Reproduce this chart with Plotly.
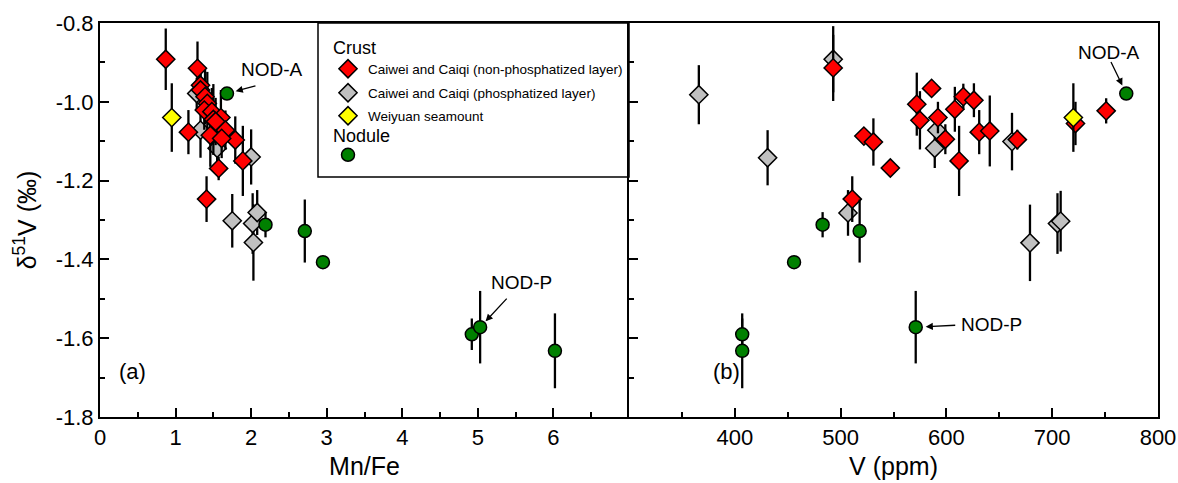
import plotly.graph_objects as go

# ---------------- data ----------------
# Panel (a): Mn/Fe
red_mnfe = [0.87, 1.29, 1.17, 1.41, 1.79, 1.89, 1.57, 1.33, 1.33, 1.39, 1.42, 1.38, 1.48, 1.60, 1.50, 1.53, 1.66, 1.46, 1.61]
red_d_a = [-0.892, -0.915, -1.077, -1.247, -1.097, -1.150, -1.169, -0.958, -0.970, -0.987, -1.004, -1.021, -1.025, -1.040, -1.045, -1.050, -1.072, -1.085, -1.093]
red_e_a = [0.078, 0.068, 0.056, 0.058, 0.060, 0.089, 0.030, 0.050, 0.060, 0.070, 0.080, 0.050, 0.060, 0.070, 0.090, 0.060, 0.050, 0.080, 0.050]

gray_mnfe = [1.28, 1.33, 1.55, 2.00, 1.75, 2.02, 2.08, 2.03]
gray_d_a = [-0.979, -1.072, -1.118, -1.140, -1.302, -1.309, -1.281, -1.357]
gray_e_a = [0.040, 0.070, 0.050, 0.070, 0.068, 0.077, 0.057, 0.097]

yel_mnfe = [0.95]
yel_d_a = [-1.04]
yel_e_a = [0.087]

nod_mnfe = [1.68, 2.19, 2.71, 2.95, 4.92, 5.03, 6.02]
nod_v = [770, 483, 518, 456, 407, 571, 407]
nod_d = [-0.979, -1.312, -1.328, -1.407, -1.590, -1.572, -1.632]
nod_e = [0.012, 0.032, 0.080, 0.008, 0.040, 0.092, 0.095]

# Panel (b): V (ppm)
red_v = [493, 586, 572, 575, 592, 608, 616, 626, 599, 612, 631, 641, 667, 522, 531, 547, 511, 722, 751]
red_d_b = [-0.914, -0.966, -1.006, -1.047, -1.040, -1.019, -0.987, -0.996, -1.095, -1.150, -1.077, -1.074, -1.096, -1.087, -1.102, -1.168, -1.247, -1.055, -1.023]
red_e_b = [0.084, 0.020, 0.080, 0.074, 0.040, 0.057, 0.033, 0.043, 0.038, 0.089, 0.056, 0.090, 0.025, 0.020, 0.060, 0.010, 0.058, 0.055, 0.032]

gray_v = [366, 493, 431, 591, 589, 507, 662, 679, 705, 708]
gray_d_b = [-0.982, -0.892, -1.142, -1.072, -1.118, -1.282, -1.101, -1.358, -1.309, -1.303]
gray_e_b = [0.075, 0.084, 0.070, 0.050, 0.050, 0.058, 0.073, 0.097, 0.077, 0.077]

yel_v = [720]
yel_d_b = [-1.04]
yel_e_b = [0.087]

x_a_ticks = [0, 1, 2, 3, 4, 5, 6]
x_b_ticks = [400, 500, 600, 700, 800]
y_ticks = [-0.8, -1.0, -1.2, -1.4, -1.6, -1.8]
y_ticktext = ["-0.8", "-1.0", "-1.2", "-1.4", "-1.6", "-1.8"]

# ---------------- figure ----------------
W, H = 1178, 483
ML, MR, MT, MB = 100, 20, 23, 66
PW = W - ML - MR
PH = H - MT - MB
SPLIT = (629 - ML) / PW

FONT = "Liberation Sans, Arial, sans-serif"

def px2paper_x(px):
    return (px - ML) / PW

def px2paper_y(py):
    return 1 - (py - MT) / PH

def err(vals):
    return dict(type="data", array=vals, visible=True, color="black", thickness=2.3, width=0)

dia_line = dict(color="black", width=1.5)

fig = go.Figure()

def add_group(xa, ya, ea, xb, yb, eb, color, symbol, size, name, legend_id):
    fig.add_trace(go.Scatter(
        x=xa, y=ya, mode="markers", error_y=err(ea),
        marker=dict(symbol=symbol, size=size, color=color, line=dia_line),
        name=name, legendgroup=legend_id, legend=legend_id,
        xaxis="x", yaxis="y", showlegend=True, cliponaxis=False))
    fig.add_trace(go.Scatter(
        x=xb, y=yb, mode="markers", error_y=err(eb),
        marker=dict(symbol=symbol, size=size, color=color, line=dia_line),
        name=name, legendgroup=legend_id, showlegend=False,
        xaxis="x2", yaxis="y2", cliponaxis=False))

# drawing order: gray, red, yellow, green
add_group(gray_mnfe, gray_d_a, gray_e_a, gray_v, gray_d_b, gray_e_b,
          "#c0c0c0", "diamond", 14, "Caiwei and Caiqi (phosphatized layer)", "legend2")
add_group(red_mnfe, red_d_a, red_e_a, red_v, red_d_b, red_e_b,
          "#ff0000", "diamond", 14, "Caiwei and Caiqi (non-phosphatized layer)", "legend")
add_group(yel_mnfe, yel_d_a, yel_e_a, yel_v, yel_d_b, yel_e_b,
          "#ffff00", "diamond", 14, "Weiyuan seamount", "legend3")
add_group(nod_mnfe, nod_d, nod_e, nod_v, nod_d, nod_e,
          "#008000", "circle", 13, " ", "legend4")

def axis_common(mirror=True):
    return dict(showline=True, linecolor="black", linewidth=2, mirror=mirror,
                ticks="inside", ticklen=9, tickwidth=2, tickcolor="black",
                showgrid=False, zeroline=False, automargin=False,
                tickfont=dict(family=FONT, size=22, color="black"))

minor_style = dict(ticks="inside", ticklen=5, tickwidth=2, tickcolor="black")

def leg(py):
    return dict(x=px2paper_x(328), y=px2paper_y(py), xanchor="left", yanchor="middle",
                bgcolor="rgba(0,0,0,0)", borderwidth=0,
                font=dict(family=FONT, size=13.5, color="black"),
                itemsizing="trace", itemwidth=30)

fig.update_layout(
    width=W, height=H,
    margin=dict(l=ML, r=MR, t=MT, b=MB, autoexpand=False),
    paper_bgcolor="white", plot_bgcolor="white",
    font=dict(family=FONT, color="black"),
    xaxis=dict(domain=[0, SPLIT], range=[0, 7], tickvals=x_a_ticks,
               minor=dict(tickvals=[0.5, 1.5, 2.5, 3.5, 4.5, 5.5, 6.5], **minor_style),
               title=dict(text="Mn/Fe", font=dict(family=FONT, size=25), standoff=8),
               anchor="y", **axis_common(True)),
    xaxis2=dict(domain=[SPLIT, 1], range=[300, 800], tickvals=x_b_ticks,
                minor=dict(tickvals=[350, 450, 550, 650, 750], **minor_style),
                title=dict(text="V (ppm)", font=dict(family=FONT, size=25), standoff=8),
                anchor="y2", **axis_common(True)),
    yaxis=dict(range=[-1.8, -0.8], tickvals=y_ticks, ticktext=y_ticktext,
               minor=dict(tickvals=[-0.9, -1.1, -1.3, -1.5, -1.7], **minor_style),
               title=dict(text="δ<sup>51</sup>V (‰)", font=dict(family=FONT, size=25), standoff=12),
               anchor="x", **axis_common(False)),
    yaxis2=dict(range=[-1.8, -0.8], tickvals=y_ticks, showticklabels=False,
                minor=dict(tickvals=[-0.9, -1.1, -1.3, -1.5, -1.7], **minor_style),
                anchor="x2", **axis_common(True)),
    showlegend=True,
    legend=leg(69),
    legend2=leg(93),
    legend3=leg(116),
    legend4=leg(155),
)

# legend box
fig.add_shape(type="rect", xref="paper", yref="paper",
              x0=px2paper_x(318), x1=SPLIT, y0=px2paper_y(177), y1=1,
              line=dict(color="black", width=1.5), fillcolor="rgba(0,0,0,0)", layer="above")
# legend group titles
fig.add_annotation(x=px2paper_x(331), y=px2paper_y(48), xref="paper", yref="paper", xanchor="left",
                   yanchor="middle", text="Crust", showarrow=False, font=dict(family=FONT, size=18, color="black"))
fig.add_annotation(x=px2paper_x(331), y=px2paper_y(136), xref="paper", yref="paper", xanchor="left",
                   yanchor="middle", text="Nodule", showarrow=False, font=dict(family=FONT, size=18, color="black"))

ann_font = dict(family=FONT, size=19, color="black")
# text labels
fig.add_annotation(x=2.28, y=-0.918, xref="x", yref="y", text="NOD-A", showarrow=False, font=ann_font)
fig.add_annotation(x=5.58, y=-1.458, xref="x", yref="y", text="NOD-P", showarrow=False, font=ann_font)
fig.add_annotation(x=754, y=-0.875, xref="x2", yref="y2", text="NOD-A", showarrow=False, font=ann_font)
fig.add_annotation(x=643, y=-1.565, xref="x2", yref="y2", text="NOD-P", showarrow=False, font=ann_font)
# arrows
arrow = dict(text="", showarrow=True, arrowhead=2, arrowsize=1.1, arrowwidth=1.3, arrowcolor="black")
fig.add_annotation(x=nod_mnfe[0], y=nod_d[0], xref="x", yref="y", ax=30, ay=-8, standoff=9, **arrow)
fig.add_annotation(x=nod_mnfe[5], y=nod_d[5], xref="x", yref="y", ax=28, ay=-30, standoff=8, **arrow)
fig.add_annotation(x=nod_v[0], y=nod_d[0], xref="x2", yref="y2", ax=-16, ay=-33, standoff=9, **arrow)
fig.add_annotation(x=nod_v[5], y=nod_d[5], xref="x2", yref="y2", ax=41, ay=-2, standoff=10, **arrow)

# panel labels
fig.add_annotation(x=px2paper_x(132), y=px2paper_y(386), xref="paper", yref="paper", xanchor="center",
                   text="(a)", showarrow=False, font=dict(family=FONT, size=22, color="black"))
fig.add_annotation(x=px2paper_x(726), y=px2paper_y(386), xref="paper", yref="paper", xanchor="center",
                   text="(b)", showarrow=False, font=dict(family=FONT, size=22, color="black"))

fig.write_html("out.html", post_script="document.body.style.margin='0px';",
               config={"displayModeBar": False})
